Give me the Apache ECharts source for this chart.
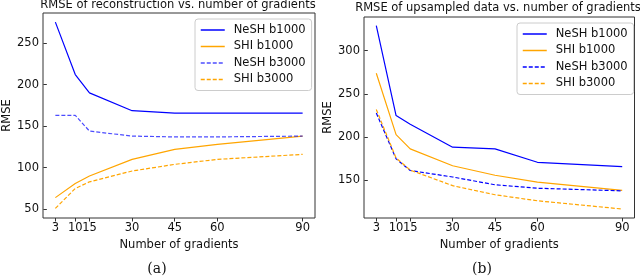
<!DOCTYPE html>
<html>
<head>
<meta charset="utf-8">
<script src="https://cdn.jsdelivr.net/npm/echarts@6/dist/echarts.min.js"></script>
<style>html,body{margin:0;padding:0;background:#fff}#c{width:640px;height:278px}</style>
</head>
<body>
<div id="c"></div>
<script>
const gradients = [3, 10, 15, 30, 45, 60, 90];
const xTicks = [3, 10, 15, 30, 45, 60, 90];
const yTicksA = [50, 100, 150, 200, 250];
const yTicksB = [150, 200, 250, 300];
const seriesNames = ['NeSH b1000', 'SHI b1000', 'NeSH b3000', 'SHI b3000'];
// (a) RMSE of reconstruction
const aNeshB1000 = [275, 212, 190, 168.5, 165.5, 165.5, 165.5];
const aShiB1000  = [64, 81, 90, 110, 122, 128, 138];
const aNeshB3000 = [163, 163, 144, 138, 137, 137, 138];
const aShiB3000  = [51, 75, 83, 96, 104, 110, 116];
// (b) RMSE of upsampled data
const bNeshB1000 = [329, 225, 215, 188.5, 186.5, 171, 166];
const bShiB1000  = [274, 203, 186.5, 167, 156, 148, 138.5];
const bNeshB3000 = [228, 175, 161.5, 154, 145, 141, 138];
const bShiB3000  = [232, 176, 162, 144, 133.5, 126.5, 117];

const FONT = 'DejaVu Sans';
const FS = 11.5;
const BLUE = '#0000ff', ORANGE = '#ffa500';

function pairs(ys) { return gradients.map((g, i) => [g, ys[i]]); }

function mkX(idx) {
  return {
    type: 'value', gridIndex: idx, min: -1.35, max: 94.35,
    axisLine: {show: false}, splitLine: {show: false},
    axisTick: {show: true, customValues: xTicks, length: 3.5, lineStyle: {color: '#333'}},
    axisLabel: {customValues: xTicks, hideOverlap: false, fontFamily: FONT, fontSize: FS, color: '#111', margin: 4},
    name: 'Number of gradients', nameLocation: 'middle', nameGap: 18,
    nameTextStyle: {fontFamily: FONT, fontSize: FS, color: '#111'}
  };
}
function mkY(idx, min, max, ticks) {
  return {
    type: 'value', gridIndex: idx, min: min, max: max,
    axisLine: {show: false}, splitLine: {show: false},
    axisTick: {show: true, customValues: ticks, length: 3.5, lineStyle: {color: '#333'}},
    axisLabel: {customValues: ticks, fontFamily: FONT, fontSize: FS, color: '#111', margin: 4},
    name: 'RMSE', nameLocation: 'middle', nameGap: 30, nameRotate: 90,
    nameTextStyle: {fontFamily: FONT, fontSize: FS, color: '#111'}
  };
}
function mkS(prefix, idx, name, ys, color, dashed, opacity, width) {
  return {
    type: 'line', name: prefix + name, xAxisIndex: idx, yAxisIndex: idx,
    data: pairs(ys), symbol: 'none', silent: true, animation: false,
    itemStyle: {color: color, opacity: opacity},
    lineStyle: {color: color, width: width, type: dashed ? [4, 2] : 'solid', opacity: opacity}
  };
}
function mkLegend(prefix, left, top) {
  return {
    orient: 'vertical', left: left, top: top,
    data: seriesNames.map(n => prefix + n),
    formatter: n => n.slice(2),
    itemWidth: 24, itemHeight: 8, itemGap: 2.5,
    padding: [4, 6, 4, 5],
    borderColor: '#cccccc', borderWidth: 1, borderRadius: 3,
    backgroundColor: 'rgba(255,255,255,0.8)',
    itemStyle: {opacity: 0, borderWidth: 0},
    lineStyle: {width: 1.5},
    textStyle: {fontFamily: FONT, fontSize: FS, color: '#111', lineHeight: 14, padding: [0, 0, 0, 4]},
    selectedMode: false
  };
}

const chart = echarts.init(document.getElementById('c'), null, {renderer: 'canvas'});
chart.setOption({
  backgroundColor: '#fff',
  animation: false,
  grid: [
    {left: 41, top: 13, width: 274, height: 205, show: true, borderColor: '#333', borderWidth: 1, backgroundColor: 'transparent'},
    {left: 364, top: 17, width: 270.5, height: 201, show: true, borderColor: '#333', borderWidth: 1, backgroundColor: 'transparent'}
  ],
  xAxis: [mkX(0), mkX(1)],
  yAxis: [mkY(0, 39.5, 286, yTicksA), mkY(1, 106.6, 339, yTicksB)],
  legend: [mkLegend('a:', 195, 19), mkLegend('b:', 517, 23)],
  series: [
    mkS('a:', 0, 'NeSH b1000', aNeshB1000, BLUE, false, 1, 1.2),
    mkS('a:', 0, 'SHI b1000', aShiB1000, ORANGE, false, 1, 1.2),
    mkS('a:', 0, 'NeSH b3000', aNeshB3000, BLUE, true, 0.7, 1.2),
    mkS('a:', 0, 'SHI b3000', aShiB3000, ORANGE, true, 1, 1.2),
    mkS('b:', 1, 'NeSH b1000', bNeshB1000, BLUE, false, 1, 1.2),
    mkS('b:', 1, 'SHI b1000', bShiB1000, ORANGE, false, 1, 1.2),
    mkS('b:', 1, 'NeSH b3000', bNeshB3000, BLUE, true, 1, 1.2),
    mkS('b:', 1, 'SHI b3000', bShiB3000, ORANGE, true, 1, 1.2)
  ],
  graphic: [
    {type: 'text', x: 178, y: 5, style: {text: 'RMSE of reconstruction vs. number of gradients', fontFamily: FONT, fontSize: FS, fill: '#111', align: 'center', verticalAlign: 'middle'}},
    {type: 'text', x: 498, y: 8, style: {text: 'RMSE of upsampled data vs. number of gradients', fontFamily: FONT, fontSize: FS, fill: '#111', align: 'center', verticalAlign: 'middle'}},
    {type: 'text', x: 157, y: 269, style: {text: '(a)', fontFamily: 'DejaVu Serif', fontSize: 14, fill: '#111', align: 'center', verticalAlign: 'middle'}},
    {type: 'text', x: 482, y: 269, style: {text: '(b)', fontFamily: 'DejaVu Serif', fontSize: 14, fill: '#111', align: 'center', verticalAlign: 'middle'}}
  ]
});
</script>
</body>
</html>
